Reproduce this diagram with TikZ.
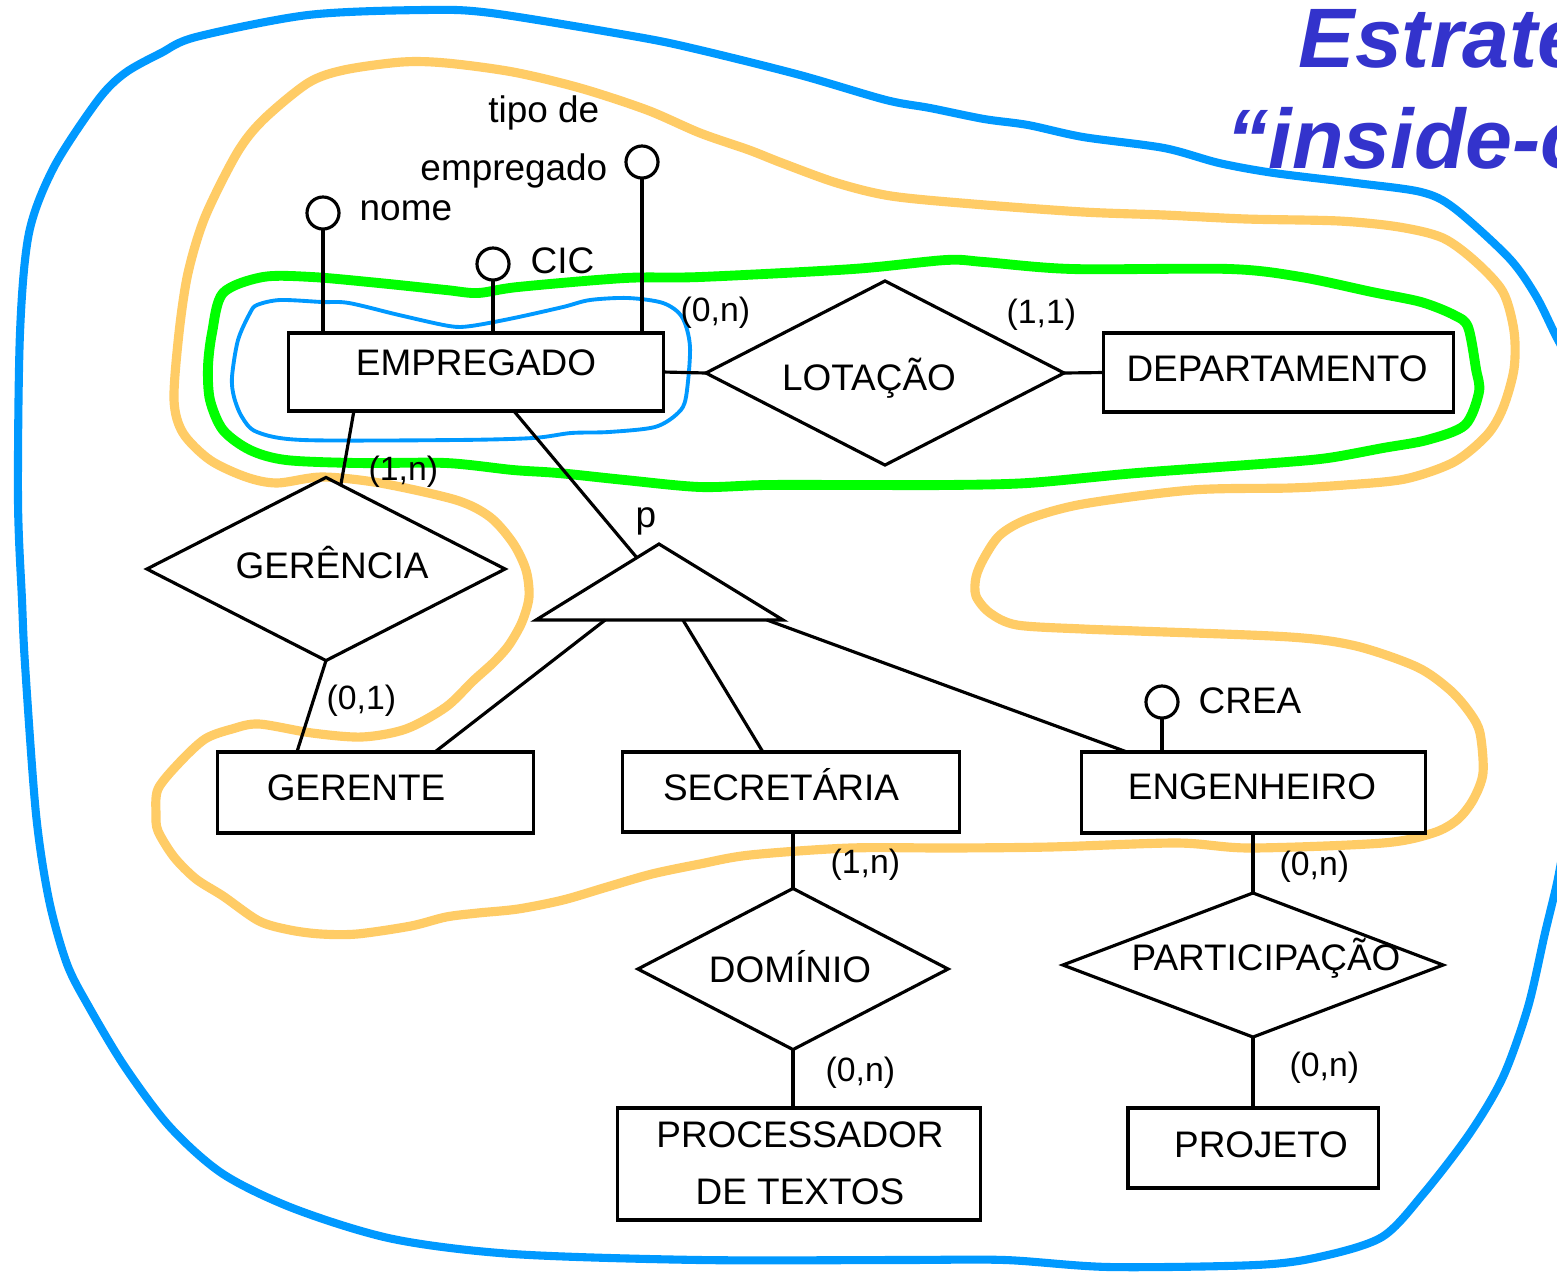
\documentclass[tikz,border=0pt]{standalone}
\usepackage{fontspec}
\setmainfont{Liberation Sans}
\usetikzlibrary{calc,shapes.geometric}
\definecolor{outerblue}{HTML}{0099FF}
\definecolor{hlorange}{HTML}{FFCC66}
\definecolor{hlgreen}{HTML}{00FF00}
\definecolor{titleblue}{HTML}{3333CC}
\tikzset{
  ln/.style={line width=0.9pt, black},
  ent/.style={draw, ln, rectangle, inner sep=0pt, outer sep=0pt},
  rel/.style={draw, ln, diamond, inner sep=0pt, outer sep=0pt},
  attr/.style={draw, ln, circle, inner sep=0pt, outer sep=0pt, minimum size=0.32cm},
  lbl/.style={inner sep=0pt, font=\fontsize{10.5}{12}\selectfont},
  card/.style={inner sep=0pt, anchor=base west, font=\fontsize{9.6}{11}\selectfont},
  ttl/.style={inner sep=0pt, anchor=base west, text=titleblue, font=\fontsize{24}{28}\selectfont\bfseries\itshape},
}
\begin{document}
\begin{tikzpicture}[x=0.01cm, y=-0.01cm]
\useasboundingbox (0,0) rectangle (1557,1272);
\fill[white] (0,0) rectangle (1557,1272);
\clip (0,0) rectangle (1557,1272);

% title
\node[ttl] (t1) at (1298,67) {Estratégia};
\node[ttl] (t2) at (1226,168) {“inside-out”};

% outer blue curve
\draw[outerblue, line width=2.3pt, line join=round, line cap=round] plot[smooth, tension=0.5] coordinates {
(1580,380) (1557,338) (1536,296) (1509,258) (1454,208) (1421,192) (1356,183) (1274,173) (1219,163) (1164,148) (1083,137) (1028,125) (984,119) (930,108) (886,100) (800,75) (700,50) (638,37) (491,13) (424,10) (308,15) (196,37) (161,53) (125,73) (98,100) (54,167) (29,233) (20,333) (18,500) (22,600) (25,664) (36,814) (49,900) (67,964) (89,1007) (125,1067) (170,1127) (223,1174) (295,1209) (393,1239) (513,1254) (700,1260) (900,1260) (1005,1260) (1109,1267) (1256,1265) (1319,1257) (1382,1237) (1424,1193) (1470,1133) (1503,1077) (1528,1007) (1545,933) (1557,883) (1565,840)};

% orange curve
\draw[hlorange, line width=2.6pt, line join=round] plot[smooth cycle, tension=0.5] coordinates {
(456,500) (490,517) (513,543) (526,570) (529,597) (522,622) (509,645) (494,662) (473,681) (446,707) (406,729) (362,737) (312,733) (259,724) (232,729) (205,739) (179,763) (158,789) (156,814) (158,831) (174,857) (196,879) (223,896) (259,921) (290,930) (321,934) (357,934) (411,926) (446,917) (478,913) (518,909) (563,900) (607,887) (652,874) (700,864) (750,855) (850,848) (950,848) (1050,847) (1177,843) (1250,848) (1383,843) (1433,833) (1457,820) (1473,800) (1483,773) (1480,733) (1470,713) (1450,690) (1417,667) (1356,646) (1290,637) (1137,631) (1083,629) (1017,625) (990,613) (976,596) (976,577) (984,558) (1000,535) (1028,519) (1083,504) (1192,490) (1290,488) (1345,485) (1405,479) (1454,462) (1487,435) (1503,408) (1514,369) (1514,331) (1503,292) (1476,262) (1443,238) (1399,227) (1339,221) (1246,219) (1164,215) (1083,212) (973,204) (891,196) (837,183) (782,163) (749,150) (700,133) (647,110) (580,88) (513,72) (446,63) (402,62) (344,70) (308,83) (263,120) (237,153) (205,217) (188,273) (179,333) (174,400) (183,433) (210,460) (246,477) (277,483) (322,477) (380,483)};

% green curve
\draw[hlgreen, line width=2.8pt, line join=round] plot[smooth cycle, tension=0.5] coordinates {
(263,277) (312,277) (379,283) (446,290) (478,293) (518,287) (625,278) (700,277) (853,269) (946,260) (984,262) (1072,269) (1230,269) (1301,277) (1372,292) (1421,302) (1454,315) (1468,327) (1476,369) (1479,392) (1465,425) (1427,440) (1383,448) (1328,458) (1274,463) (1137,473) (1028,483) (946,485) (864,485) (766,485) (700,487) (625,480) (558,473) (513,470) (446,463) (357,463) (286,460) (250,450) (223,430) (210,400) (208,367) (212,333) (223,293)};

% inner blue curve
\draw[outerblue, line width=1.1pt, line join=round] plot[smooth cycle, tension=0.5] coordinates {
(257,305) (280,300) (322,302) (349,303) (399,315) (449,326) (471,326) (514,318) (563,307) (590,300) (628,298) (663,303) (682,317) (690,347) (686,397) (678,413) (655,427) (609,432) (571,433) (533,438) (456,440) (303,440) (257,432) (242,417) (234,397) (232,377) (238,340) (250,313)};

% entities
\node[ent, minimum width=3.74cm, minimum height=0.78cm] (emp) at (476,372) {};
\node[ent, minimum width=3.49cm, minimum height=0.79cm] (dep) at (1278.5,372.5) {};
\node[ent, minimum width=3.15cm, minimum height=0.81cm] (gte) at (375.5,792.5) {};
\node[ent, minimum width=3.36cm, minimum height=0.80cm] (sec) at (791,792) {};
\node[ent, minimum width=3.43cm, minimum height=0.81cm] (eng) at (1253.5,792.5) {};
\node[ent, minimum width=3.62cm, minimum height=1.12cm] (proc) at (799,1164) {};
\node[ent, minimum width=2.50cm, minimum height=0.80cm] (proj) at (1253,1148) {};

% relationships
\node[rel, minimum width=3.58cm, minimum height=1.84cm] (lot) at (885,373) {};
\node[rel, minimum width=3.58cm, minimum height=1.83cm] (ger) at (326,569) {};
\node[rel, minimum width=3.10cm, minimum height=1.61cm] (dom) at (793,969) {};
\node[rel, minimum width=3.80cm, minimum height=1.44cm] (part) at (1253,965) {};

% specialization triangle
\coordinate (tA) at (659,544);
\coordinate (tL) at (536,620);
\coordinate (tR) at (783,620);
\draw[ln, line join=miter] (tA) -- (tL) -- (tR) -- cycle;

% attributes
\node[attr] (anome) at (323,213) {};
\node[attr] (acic) at (493,264) {};
\node[attr] (atipo) at (642,162) {};
\node[attr] (acrea) at (1162,702) {};
\draw[ln] (anome.south) -- (anome.south |- emp.north);
\draw[ln] (acic.south) -- (acic.south |- emp.north);
\draw[ln] (atipo.south) -- (atipo.south |- emp.north);
\draw[ln] (acrea.south) -- (acrea.south |- eng.north);

% connectors
\draw[ln] (emp.east) -- (lot.west);
\draw[ln] (lot.east) -- (dep.west);
\coordinate (e1) at ($(emp.south west)+(65,0)$);
\draw[ln] (e1) -- (ger);
\draw[ln] (ger.south) -- ($(gte.north west)+(79,0)$);
\draw[ln] ($(emp.south west)+(225,0)$) -- ($(tL)!0.82!(tA)$);
\draw[ln] ($(tL)!0.28!(tR)$) -- ($(gte.north west)+(217,0)$);
\draw[ln] ($(tL)!0.595!(tR)$) -- ($(sec.north west)+(140,0)$);
\draw[ln] ($(tL)!0.935!(tR)$) -- ($(eng.north west)+(45,0)$);
\draw[ln] (dom.north) -- (dom.north |- sec.south);
\draw[ln] (dom.south) -- (dom.south |- proc.north);
\draw[ln] (part.north) -- (part.north |- eng.south);
\draw[ln] (part.south) -- (part.south |- proj.north);

% texts
\node[lbl, anchor=base] (emp-t) at (476,375) {EMPREGADO};
\node[lbl, anchor=base] (dep-t) at (1277,381) {DEPARTAMENTO};
\node[lbl, anchor=base] (lot-t) at (869,390) {LOTAÇÃO};
\node[lbl, anchor=base] (ger-t) at (332,578) {GERÊNCIA};
\node[lbl, anchor=base] (gte-t) at (356,800) {GERENTE};
\node[lbl, anchor=base] (sec-t) at (781,800) {SECRETÁRIA};
\node[lbl, anchor=base] (eng-t) at (1252,799) {ENGENHEIRO};
\node[lbl, anchor=base] (dom-t) at (790,982) {DOMÍNIO};
\node[lbl, anchor=base] (part-t) at (1266,970) {PARTICIPAÇÃO};
\node[lbl, anchor=base] (proc-t1) at (800,1147) {PROCESSADOR};
\node[lbl, anchor=base] (proc-t2) at (800,1204) {DE TEXTOS};
\node[lbl, anchor=base] (proj-t) at (1261,1157) {PROJETO};
\node[lbl, anchor=base west] (nome-t) at (359,220) {nome};
\node[lbl, anchor=base west] (cic-t) at (530,273) {CIC};
\node[lbl, anchor=base east] (tipo-t1) at (600,122) {tipo de};
\node[lbl, anchor=base east] (tipo-t2) at (608,180) {empregado};
\node[lbl, anchor=base west] (crea-t) at (1198,713) {CREA};
\node[lbl, anchor=base west] (p-t) at (635,527) {p};

% cardinalities
\node[card] (c1) at (680,321) {(0,n)};
\node[card] (c2) at (1006,323) {(1,1)};
\node[card] (c3) at (368,480) {(1,n)};
\node[card] (c4) at (326,709) {(0,1)};
\node[card] (c5) at (830,873) {(1,n)};
\node[card] (c6) at (1279,875) {(0,n)};
\node[card] (c7) at (825,1081) {(0,n)};
\node[card] (c8) at (1289,1076) {(0,n)};
\end{tikzpicture}
\end{document}
